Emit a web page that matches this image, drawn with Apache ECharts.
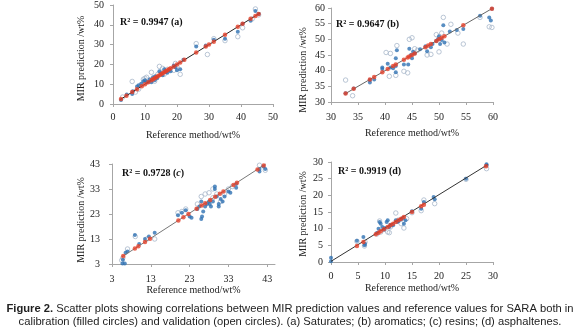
<!DOCTYPE html>
<html><head><meta charset="utf-8">
<script src="https://cdn.jsdelivr.net/npm/echarts@6/dist/echarts.min.js"></script>
<style>html,body{margin:0;padding:0;background:#fff}#c{width:580px;height:330px}</style>
</head><body><div id="c"></div>
<script>
// ---------- Panel (a) Saturates ----------
const aCal = [[2.5,2.0],[4.3,4.8],[6.0,5.0],[6.2,6.5],[7.5,8.8],[8.0,9.5],[8.8,10.2],[9.5,11.5],[10.0,12.0],[10.5,10.8],[11.0,11.2],[11.5,12.5],[12.0,11.0],[12.5,13.5],[13.0,12.0],[13.2,14.0],[13.8,13.0],[14.5,16.5],[15.0,15.5],[15.5,14.5],[16.0,17.5],[16.5,16.0],[17.0,15.8],[17.5,17.0],[18.0,16.5],[19.0,19.5],[19.5,18.5],[20.0,17.0],[21.0,17.5],[22.0,22.3],[26.0,29.0],[29.0,29.5],[31.5,32.5],[35.0,33.0],[39.0,36.5],[40.5,40.5],[43.0,42.0],[44.5,47.0],[45.5,45.5]];
const aVal = [[3.0,3.5],[6.0,11.4],[7.0,6.0],[8.0,7.5],[9.5,12.5],[10.0,13.0],[10.5,13.5],[12.0,16.0],[13.0,11.5],[14.0,15.0],[14.5,19.0],[15.5,18.0],[16.0,15.0],[17.0,17.5],[19.0,17.0],[19.5,20.5],[20.0,19.0],[21.0,15.0],[26.0,30.5],[29.5,25.0],[31.5,33.0],[35.0,32.0],[39.0,34.0],[40.5,38.5],[43.5,43.0],[44.5,48.0],[45.5,45.0]];
const aFit = [[2.5,2.5],[4.2,4.2],[6.0,6.0],[7.5,7.5],[9.0,9.0],[10.0,10.0],[11.0,11.0],[12.0,12.0],[12.5,12.5],[13.0,13.0],[13.5,13.5],[14.0,14.0],[14.5,14.5],[15.0,15.0],[15.5,15.5],[16.0,16.0],[16.5,16.5],[17.0,17.0],[17.5,17.5],[18.0,18.0],[19.0,19.0],[20.0,20.0],[21.0,21.0],[22.3,22.3],[26.0,26.0],[29.0,29.0],[30.0,30.0],[31.5,31.5],[35.0,35.0],[39.0,39.0],[40.5,40.5],[43.0,43.0],[44.5,44.5],[45.5,45.5]];
const aTrend = [[2.2,2.2],[46.0,46.0]];

// ---------- Panel (b) aromatics ----------
const bCal = [[32.7,32.8],[34.2,34.3],[37.2,36.2],[37.2,37.0],[38.0,37.2],[39.5,40.5],[39.5,41.0],[40.5,42.2],[41.0,41.0],[41.5,40.8],[42.0,41.5],[42.0,44.0],[42.2,46.5],[42.0,39.5],[43.5,42.0],[44.3,42.0],[44.5,47.0],[44.8,45.0],[45.0,44.0],[45.2,46.0],[45.5,45.5],[46.5,46.8],[47.5,47.8],[47.8,46.2],[48.5,47.5],[48.8,48.5],[49.5,49.5],[49.8,50.0],[50.0,51.0],[50.2,48.5],[50.5,49.8],[50.8,54.5],[51.0,49.0],[52.0,52.5],[53.3,53.0],[54.5,53.3],[57.6,57.5],[59.3,57.0],[59.6,56.0],[59.8,59.8]];
const bVal = [[32.7,37.0],[34.0,32.0],[40.2,45.8],[40.8,38.2],[41.0,45.5],[42.2,48.0],[42.0,38.5],[43.5,39.8],[44.2,39.3],[44.5,50.0],[45.0,50.5],[45.5,47.0],[46.0,46.5],[47.8,45.0],[48.5,45.2],[49.5,51.5],[50.0,46.0],[50.5,52.0],[50.8,57.0],[51.5,48.5],[52.2,54.8],[53.5,52.0],[54.5,48.5],[57.6,57.0],[59.3,54.0],[59.8,53.8]];
const bFit = [[32.7,32.7],[34.2,34.2],[37.2,37.2],[38.0,38.0],[39.5,39.5],[40.5,40.5],[41.5,41.5],[42.0,42.0],[43.5,43.5],[44.2,44.2],[44.5,44.5],[45.0,45.0],[45.5,45.5],[47.5,47.5],[48.0,48.0],[48.5,48.5],[49.5,49.5],[50.0,50.0],[50.5,50.5],[51.0,51.0],[54.5,54.5],[59.8,59.8]];
const bTrend = [[32.5,32.5],[60.0,60.0]];

// ---------- Panel (c) resins ----------
const cCal = [[5.7,3.2],[6.3,3.2],[5.8,4.7],[6.5,7.5],[7.0,8.0],[8.9,14.6],[10.0,11.0],[11.5,13.0],[12.5,14.0],[14.0,15.5],[20.0,22.5],[21.0,23.5],[22.0,24.5],[23.0,22.0],[23.5,21.5],[25.0,25.0],[25.5,26.0],[26.0,28.0],[26.5,24.0],[26.0,21.0],[26.2,22.0],[27.0,26.0],[27.5,27.0],[28.0,28.0],[28.2,27.0],[28.5,26.0],[29.0,28.0],[29.5,33.0],[29.5,34.0],[30.0,30.0],[30.5,27.0],[30.5,26.0],[31.0,29.0],[31.5,28.0],[32.0,30.0],[33.0,32.0],[33.5,31.5],[35.0,33.5],[35.0,35.0],[41.0,40.0],[41.0,41.0],[42.5,41.0],[42.0,42.0]];
const cVal = [[5.5,4.5],[5.8,5.5],[7.0,9.0],[9.0,14.0],[12.0,13.0],[14.0,13.0],[20.0,23.5],[21.0,24.0],[22.0,25.0],[25.0,27.0],[26.0,30.0],[27.0,31.0],[28.0,31.5],[29.0,33.0],[29.0,29.5],[30.0,31.0],[31.0,28.0],[32.0,31.0],[33.0,33.0],[34.0,34.0],[41.0,42.5],[41.0,44.0],[42.5,40.5]];
const cFit = [[5.9,6.2],[8.9,9.2],[9.8,10.1],[11.5,11.8],[12.8,13.1],[20.1,20.4],[21.4,21.7],[22.7,23.0],[24.8,25.1],[26.1,26.4],[27.0,27.3],[28.3,28.6],[29.6,29.9],[30.8,31.1],[31.7,32.0],[34.3,34.6],[35.2,35.5],[40.5,40.8],[42.1,42.4]];
const cTrend = [[5.5,5.8],[42.6,43.0]];

// ---------- Panel (d) asphaltenes ----------
const dCal = [[0.0,1.3],[0.0,0.2],[4.8,6.4],[6.0,7.5],[6.2,5.0],[6.3,5.5],[8.5,8.7],[8.8,10.0],[9.0,12.0],[9.2,11.5],[9.5,10.5],[9.8,9.7],[10.0,10.2],[10.3,12.0],[10.5,12.5],[10.8,10.5],[11.0,11.2],[11.5,11.0],[12.0,12.5],[12.3,12.0],[12.5,12.3],[13.0,12.8],[13.3,13.2],[13.5,11.5],[13.8,12.5],[15.0,15.2],[16.7,16.0],[17.2,18.0],[19.0,19.5],[19.2,18.8],[25.0,25.0],[28.8,29.3],[28.8,29.0]];
const dVal = [[4.8,6.2],[6.2,4.8],[6.3,6.0],[8.5,8.4],[9.0,12.3],[9.2,9.0],[10.5,9.0],[10.8,8.8],[11.0,10.5],[12.0,14.7],[12.5,12.6],[13.0,11.5],[13.5,10.2],[14.0,13.0],[15.0,14.8],[16.7,15.4],[17.2,18.6],[19.2,17.5],[25.0,24.8],[28.8,28.0]];
const dFit = [[4.8,4.8],[6.0,6.0],[8.3,8.3],[8.8,8.8],[9.2,9.2],[9.8,9.8],[10.5,10.5],[11.0,11.0],[11.5,11.5],[12.0,12.0],[12.5,12.5],[13.0,13.0],[13.5,13.5],[15.0,15.0],[16.7,16.7],[17.2,17.2],[28.7,28.7]];
const dTrend = [[0.0,0.2],[29.0,29.2]];

// ---------- tick labels (panel c uses custom ticks) ----------
const cTicks = [3, 13, 23, 33, 43];

const xName = 'Reference method/wt%';
const yName = 'MIR prediction /wt%';
const captionLine1 = '{b|Figure 2.} Scatter plots showing correlations between MIR prediction values and reference values for SARA both in';
const captionLine2 = 'calibration (filled circles) and validation (open circles). (a) Saturates; (b) aromatics; (c) resins; (d) asphaltenes.';

const serif = 'Liberation Serif';
const axisCol = '#a6a6a6';
const lblStyle = {fontFamily: serif, fontSize: 10, color: '#222'};

function xAxis(i, o) {
  const ax = {
    type: 'value', gridIndex: i, min: o.min, max: o.max,
    name: xName, nameLocation: 'middle', nameGap: o.nameGap,
    nameTextStyle: {fontFamily: serif, fontSize: 10, color: '#222'},
    axisLine: {show: true, lineStyle: {color: axisCol, width: 1}},
    axisTick: {show: true, length: 3, lineStyle: {color: axisCol}},
    axisLabel: Object.assign({margin: o.margin}, lblStyle),
    splitLine: {show: false}
  };
  if (o.interval) ax.interval = o.interval;
  if (o.custom) { ax.axisLabel.customValues = o.custom; ax.axisTick.customValues = o.custom; }
  return ax;
}
function yAxis(i, o) {
  const ax = {
    type: 'value', gridIndex: i, min: o.min, max: o.max,
    name: yName, nameLocation: 'middle', nameGap: o.nameGap,
    nameTextStyle: {fontFamily: serif, fontSize: 10, color: '#222', padding: [0, o.shift * 2, 0, 0]},
    axisLine: {show: true, lineStyle: {color: axisCol, width: 1}},
    axisTick: {show: true, length: 3, lineStyle: {color: axisCol}},
    axisLabel: Object.assign({margin: o.margin}, lblStyle),
    splitLine: {show: false}
  };
  if (o.interval) ax.interval = o.interval;
  if (o.custom) { ax.axisLabel.customValues = o.custom; ax.axisTick.customValues = o.custom; }
  return ax;
}
function panelSeries(i, cal, val, fit, trend, lineCol) {
  return [
    {type: 'scatter', xAxisIndex: i, yAxisIndex: i, data: val, symbol: 'circle', symbolSize: 4.5,
     itemStyle: {color: 'rgba(255,255,255,0)', borderColor: '#a9b8cb', borderWidth: 1}, z: 2},
    {type: 'scatter', xAxisIndex: i, yAxisIndex: i, data: cal, symbol: 'circle', symbolSize: 4,
     itemStyle: {color: '#2f72b3'}, z: 3},
    {type: 'line', xAxisIndex: i, yAxisIndex: i, data: trend, symbol: 'none',
     lineStyle: {color: lineCol, width: 1}, z: 4},
    {type: 'scatter', xAxisIndex: i, yAxisIndex: i, data: fit, symbol: 'circle', symbolSize: 4.5,
     itemStyle: {color: '#e5412b'}, z: 5}
  ];
}
function rText(x, y, txt) {
  return {type: 'text', x: x, y: y, style: {text: txt, fill: '#111',
    font: 'bold 10px "Liberation Serif"', textVerticalAlign: 'middle',
    rich: {i: {fontStyle: 'italic', fontWeight: 'bold', fontFamily: serif, fontSize: 10, fill: '#111'}}}};
}

const chart = echarts.init(document.getElementById('c'), null, {renderer: 'canvas'});
chart.setOption({
  animation: false,
  backgroundColor: '#fff',
  grid: [
    {left: 113, top: 5, width: 160, height: 99},
    {left: 331, top: 8, width: 162, height: 94},
    {left: 112, top: 164, width: 163, height: 100},
    {left: 331, top: 162, width: 162, height: 100}
  ],
  xAxis: [
    xAxis(0, {min: 0, max: 50, interval: 10, margin: 8, nameGap: 26}),
    xAxis(1, {min: 30, max: 60, interval: 5, margin: 10, nameGap: 26}),
    xAxis(2, {min: 3, max: 45, custom: cTicks, margin: 10, nameGap: 19}),
    xAxis(3, {min: 0, max: 30, interval: 5, margin: 9, nameGap: 21})
  ],
  yAxis: [
    yAxis(0, {min: 0, max: 50, interval: 10, margin: 9, nameGap: 27, shift: 4}),
    yAxis(1, {min: 30, max: 60, interval: 5, margin: 6, nameGap: 23, shift: 15}),
    yAxis(2, {min: 3, max: 43, custom: cTicks, margin: 12, nameGap: 24, shift: 6}),
    yAxis(3, {min: 0, max: 30, interval: 5, margin: 8, nameGap: 23, shift: 2})
  ],
  series: [].concat(
    panelSeries(0, aCal, aVal, aFit, aTrend, '#222'),
    panelSeries(1, bCal, bVal, bFit, bTrend, '#666'),
    panelSeries(2, cCal, cVal, cFit, cTrend, '#777'),
    panelSeries(3, dCal, dVal, dFit, dTrend, '#333')
  ),
  graphic: [
    rText(120, 22, 'R² = 0.9947 (a)'),
    rText(336, 24, 'R² = 0.9647 (b)'),
    rText(122, 173, 'R² = 0.9728 ({i|c})'),
    rText(338, 171, 'R² = 0.9919 (d)'),
    {type: 'text', x: 290, y: 309, style: {text: captionLine1, fill: '#222',
      font: '11.2px "Liberation Sans"', textAlign: 'center', textVerticalAlign: 'middle',
      rich: {b: {fontWeight: 'bold', fontFamily: 'Liberation Sans', fontSize: 11.2, fill: '#222'}}}},
    {type: 'text', x: 290, y: 322, style: {text: captionLine2, fill: '#222',
      font: '11.2px "Liberation Sans"', textAlign: 'center', textVerticalAlign: 'middle'}}
  ]
});
</script>
</body></html>
